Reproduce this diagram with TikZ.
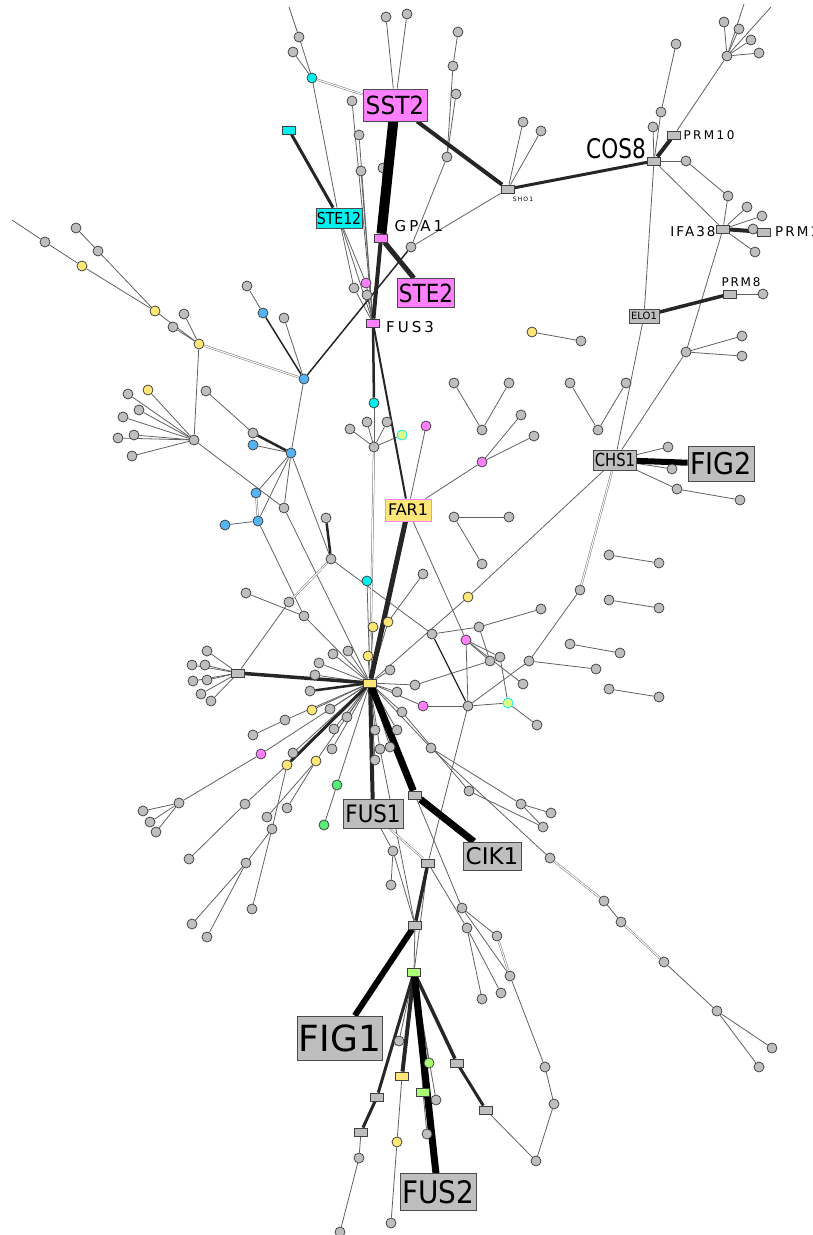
\documentclass[tikz,border=0pt]{standalone}
\usepackage{fontspec}
\usepackage{graphicx}
\setmainfont{DejaVu Sans}
\newfontfamily\spfont[LetterSpace=20]{DejaVu Sans}
\usetikzlibrary{backgrounds}
\newcommand\fsz[1]{\fontsize{#1}{#1}\selectfont}
\definecolor{ngray}{HTML}{BEBEBE}
\definecolor{nmag}{HTML}{FF80FF}
\definecolor{ncyan}{HTML}{00F0F0}
\definecolor{nyel}{HTML}{FFE777}
\definecolor{nblue}{HTML}{55B4F5}
\definecolor{ngreen}{HTML}{55EE77}
\definecolor{nlgreen}{HTML}{AAFF77}
\definecolor{nyg}{HTML}{DDFF88}
\begin{document}
\begin{tikzpicture}[x=1pt,y=-1pt,
 nd/.style={circle,draw=black!75,line width=0.75pt,minimum size=10pt,inner sep=0pt},
 gc/.style={nd,fill=ngray}, mc/.style={nd,fill=nmag}, cc/.style={nd,fill=ncyan},
 yc/.style={nd,fill=nyel}, bc/.style={nd,fill=nblue}, grc/.style={nd,fill=ngreen},
 lgc/.style={nd,fill=nlgreen}, ygc/.style={nd,fill=nyg,draw=ncyan},
 sq/.style={rectangle,draw=black!75,line width=0.75pt,minimum width=13pt,minimum height=8pt,inner sep=0pt},
 grr/.style={sq,fill=ngray}, mr/.style={sq,fill=nmag}, cr/.style={sq,fill=ncyan},
 yr/.style={sq,fill=nyel}, lgr/.style={sq,fill=nlgreen},
 lbox/.style={rectangle,draw=black!70,line width=0.8pt,fill=ngray,inner sep=0pt},
 ed/.style={draw=black!62,line width=0.8pt},
 dbl/.style={draw=black!55,double=white,double distance=1.1pt,line width=0.5pt},
 lab/.style={inner sep=0pt}
]
\useasboundingbox (0,0) rectangle (812,1235);

% gray circles
\foreach \n/\x/\y in {t1/299/37, t2/293/52, t4/386/17, t5/407/14, t6/352/101, t7/359/135, t8/361/171, t11/354/288, t12/367/295, t13/411/247, t14/447/157, t15/458/32, t16/453/66, t17/456/94, t18/523/122, t19/541/131,
l1/45/242, l2/76/228, l3/98/251, l6/184/314, l7/173/327, l9/247/286, l11/284/318, l14/128/394, l15/206/391, l16/139/410, l17/123/417, l18/118/438, l19/134/435, l20/132/456, l21/194/440, l22/253/433, l28/284/508, l29/326/518, l30/331/559, l31/246/593, l32/289/602, l33/304/616, l34/207/651, l35/192/665, l36/205/665, l37/193/681, l38/207/680, l39/201/694, l40/211/701,
m2/374/447, m3/350/429, m4/367/422, m5/387/422, m8/482/430, m9/454/383, m10/509/383, m12/521/415, m13/534/436, m14/454/517, m15/509/517, m16/482/564, m18/423/574, m22/432/634, m23/479/627, m24/541/609, m26/500/657, m27/490/661, m28/529/661, m29/523/684, m30/468/706, m32/537/725, m34/415/685, m35/580/590, m36/596/669,
r2/581/341, r3/570/383, r4/626/383, r5/598/430, r6/668/447, r7/672/469, r8/677/489, r9/740/500, r10/609/555, r11/659/563, r12/609/600, r13/659/608, r14/570/644, r15/620/653, r16/609/689, r17/659/697,
q1/676/44, q2/661/112, q3/653/127, q4/686/161, q5/727/56, q6/724/22, q7/739/29, q8/751/40, q9/759/53, q10/728/196, q11/747/207, q12/762/216, q13/753/229, q14/755/252, q15/763/294, q16/686/352, q17/742/336, q18/742/356,
h1/348/651, h2/333/654, h3/319/663, h5/390/670, h6/315/675, h7/310/691, h8/397/692, h10/330/709, h11/285/720, h12/402/712, h13/347/717, h14/334/729, h15/375/730, h16/397/730, h17/431/748, h18/332/749, h19/380/749, h20/390/747, h21/293/753, h22/375/760, h26/253/735, h29/179/803, h30/143/811, h31/150/822, h32/156/832, h33/245/804, h34/189/859, h35/287/808, h36/267/817, h37/272/829, h38/246/863, h39/252/909, h40/192/924, h41/207/937, h42/469/791, h43/521/804, h44/551/813, h45/543/827, h46/550/858, h47/604/901, h48/621/922, h49/664/962, h50/717/1011, h51/772/1048, h52/759/1067,
b1/393/851, b2/391/885, b3/462/908, b4/467/928, b5/497/936, b6/510/976, b7/482/999, b8/501/993, b9/399/1041, b10/359/1158, b11/340/1232, b13/391/1223, b15/436/1100, b16/427/1134, b17/545/1067, b18/554/1104, b19/536/1161}
  \node[gc] (\n) at (\x,\y) {};
\foreach \n/\x/\y in {l4/82/266, l5/155/311, l8/199/344, l13/148/390, m19/468/597, m20/373/627, m21/388/622, h4/368/656, h9/312/710, h23/287/765, h24/316/761, r1/532/332, b12/397/1142}
  \node[yc] (\n) at (\x,\y) {};
\foreach \n/\x/\y in {t10/366/283, m7/426/426, m11/482/462, m25/466/640, m33/423/706, h25/261/754}
  \node[mc] (\n) at (\x,\y) {};
\foreach \n/\x/\y in {t3/312/78, m1/374/403, m17/367/581}
  \node[cc] (\n) at (\x,\y) {};
\foreach \n/\x/\y in {l10/263/313, l12/304/379, l23/253/445, l24/291/453, l25/256/493, l26/258/521, l27/225/525}
  \node[bc] (\n) at (\x,\y) {};
\node[grc] (h27) at (337,785) {};
\node[grc] (h28) at (324,825) {};
\node[lgc] (b14) at (429,1063) {};
\node[ygc] (m6) at (402,435) {};
\node[ygc] (m31) at (508,703) {};

% small rectangles
\foreach \n/\x/\y in {SHO1/508/189, COS8/654/161, PRM10/674/135, IFA38/723/229, PRM1/764/232, PRM8/730/294, lr/238/673, gr2/415/795, gr3/428/863, gr4/415/925, gr5/377/1097, gr6/361/1132, gr7/457/1063, gr8/486/1110}
  \node[grr] (\n) at (\x,\y) {};
\node[mr] (GPA1) at (381,238) {};
\node[mr] (FUS3) at (373,323) {};
\node[cr] (cr1) at (289,130) {};
\node[yr] (H) at (370,683) {};
\node[yr] (yr2) at (402,1076) {};
\node[lgr] (lgr1) at (414,972) {};
\node[lgr] (lgr2) at (423,1092) {};

% labelled boxes
\node[lbox,fill=nmag,minimum width=64pt,minimum height=32pt] (SST2) at (395,105) {\scalebox{0.93}[1]{\fsz{25}SST2}};
\node[lbox,fill=nmag,minimum width=57pt,minimum height=29pt] (STE2) at (426,293) {\scalebox{0.86}[1]{\fsz{25}STE2}};
\node[lbox,fill=ncyan,minimum width=46pt,minimum height=20pt] (STE12) at (339,218) {\scalebox{0.85}[1]{\fsz{16.5}STE12}};
\node[lbox,fill=nyel,draw=nmag,minimum width=46pt,minimum height=22pt] (FAR1) at (408,510) {\fsz{16}FAR1};
\node[lbox,minimum width=43pt,minimum height=20pt] (CHS1) at (615,460) {\scalebox{0.82}[1]{\fsz{18}CHS1}};
\node[lbox,minimum width=66pt,minimum height=35pt] (FIG2) at (721,464) {\scalebox{0.9}[1]{\fsz{30}FIG2}};
\node[lbox,minimum width=30pt,minimum height=14pt] (ELO1) at (644,316) {\fsz{10}ELO1};
\node[lbox,minimum width=60pt,minimum height=29pt] (FUS1) at (373,814) {\scalebox{0.89}[1]{\fsz{24}FUS1}};
\node[lbox,minimum width=58pt,minimum height=28pt] (CIK1) at (492,856) {\fsz{23}CIK1};
\node[lbox,minimum width=85pt,minimum height=44pt] (FIG1) at (340,1038) {\fsz{36}FIG1};
\node[lbox,minimum width=76pt,minimum height=37pt] (FUS2) at (438,1192) {\scalebox{0.9}[1]{\fsz{31}FUS2}};

% plain labels
\node[lab] (lGPA1) at (419,226) {\spfont\fsz{15}GPA1};
\node[lab] (lFUS3) at (410,327) {\spfont\fsz{15}FUS3};
\node[lab] (lCOS8) at (616,149) {\scalebox{0.8}[1]{\fsz{27}COS8}};
\node[lab] (lPRM10) at (709,135) {\addfontfeature{LetterSpace=20}\fsz{12}PRM10};
\node[lab] (lIFA38) at (693,232) {\addfontfeature{LetterSpace=15}\fsz{13.5}IFA38};
\node[lab,anchor=west] (lPRM1) at (775,232) {\addfontfeature{LetterSpace=15}\fsz{13.5}PRM1};
\node[lab] (lPRM8) at (741,282) {\addfontfeature{LetterSpace=15}\fsz{12}PRM8};
\node[lab] (lSHO1) at (523,199) {\addfontfeature{LetterSpace=20}\fsz{6}SHO1};

\coordinate (ta) at (289,7);
\coordinate (lo) at (12,220);
\coordinate (qa) at (744,4);
\coordinate (qb) at (771,7);

\begin{pgfonlayer}{background}
\node[gc] (t9) at (383,168) {};
\foreach \a/\b in {t1/ta, t1/t3, t2/t3, t3/STE12, t4/SST2, t5/SST2, t6/FUS3, t7/FUS3, t8/FUS3, STE12/t10, STE12/t11, STE12/FUS3, t11/FUS3, t12/FUS3, t10/FUS3, t13/SHO1, t13/t14, t14/t16, t16/t15, t14/t17, SHO1/t18, SHO1/t19, m7/FAR1, t9/GPA1,
lo/l1, l1/l4, l4/l5, l2/l3, l3/l5, l5/l8, l6/l8, l7/l8, l8/l21, l9/l10, l11/l12, l12/l24, l13/l21, l14/l21, l16/l21, l17/l21, l18/l21, l19/l21, l20/l21, l15/l22, l23/l24, l24/l25, l24/l26, l27/l26, l24/l28, l21/l28, l28/H, l24/l30, l32/lr, l30/m22, l26/l33, l33/H, l31/l33, lr/l34, lr/l35, lr/l36, lr/l37, lr/l38, lr/l39, lr/l40,
m1/m2, m2/m3, m2/m4, m2/m5, m2/m6, m17/H, m9/m8, m10/m8, m12/m11, m13/m11, m11/FAR1, m14/m15, m14/m16, FAR1/m25, m18/m21, m21/H, m20/H, m19/CHS1, m19/H, m22/m23, m24/m23, m25/m30, m25/m27, m25/m29, m25/m26, m26/m31, m23/m27, m27/m34, m34/H, m28/m30, m28/m35, m28/m36, m30/m33, m30/m31, m31/m32, m30/gr3, m33/H,
r1/r2, r3/r5, r4/r5, ELO1/CHS1, COS8/ELO1, PRM8/q15, q16/q17, q16/q18, q16/CHS1, IFA38/q16, CHS1/r6, CHS1/r7, CHS1/r8, r8/r9, r10/r11, r12/r13, r14/r15, r16/r17, COS8/q2, q2/q1, COS8/q3, COS8/q4, PRM10/q5, q5/q6, q5/q7, q5/q8, q5/q9, q5/qa, q5/qb, COS8/IFA38, q4/q10, q10/IFA38, IFA38/q11, IFA38/q12, IFA38/q13, IFA38/q14,
H/h1, H/h2, H/h3, H/h4, H/h5, H/h6, H/h8, H/h9, H/h10, H/h12, H/h13, H/h14, H/h15, H/h16, H/h17, H/h18, H/h19, H/h20, H/h21, H/h22, H/h24, H/h25, h29/h25, h29/h30, h29/h31, h29/h32, h26/h11, h11/H, h33/h23, h34/h33, h35/h24, h36/h24, h37/h23, h37/h38, h37/h39, h38/h40, h38/h41, H/h27, h27/h28, gr2/b3, FUS1/b1, b1/b2, b1/gr4, h19/gr4, gr3/b4, gr3/lgr1, gr4/lgr1, b3/b5, b3/b6, b4/b7, b4/b8, b6/b17, b17/b18, b18/b19, b19/gr8, h47/h48, h49/h50, h50/h51, h50/h52, h12/h42, h42/h45, h17/h43, h43/h44, h43/h45, h17/h46, lgr1/b9, gr6/b10, b10/b11, yr2/b12, b12/b13, lgr1/b14, lgr1/lgr2, lgr1/b15, lgr2/b16}
  \draw[ed] (\a) -- (\b);
\foreach \a/\b in {t3/SST2, l8/l12, m2/H, STE2/m7, m35/CHS1, FUS1/gr3, l30/l32, l25/l26, h46/h47, h48/h49, b5/b6}
  \draw[dbl] (\a) -- (\b);
\foreach \a/\b/\w in {GPA1/STE2/5, GPA1/FUS3/4, SST2/SHO1/4, SHO1/COS8/3, COS8/PRM10/4, IFA38/PRM1/4, ELO1/PRM8/3.5, cr1/STE12/3, FUS3/m1/2.5, FUS3/FAR1/2, FAR1/H/5, lr/H/3.5, H/h7/2.5, H/h23/3, H/FUS1/4, gr3/gr4/3.5, lgr1/yr2/4, lgr1/gr7/3.5, gr7/gr8/3, lgr1/gr5/3, gr5/gr6/3, l22/l24/2.5, l10/l12/1.5, t13/l12/1.5, l29/l30/2.5, m22/m30/1.3}
  \draw[draw=black!85,line width=\w pt] (\a) -- (\b);
\foreach \a/\b/\w in {SST2/GPA1/10, CHS1/FIG2/6, H/gr2/7, gr2/CIK1/7, gr4/FIG1/6, lgr1/FUS2/7}
  \draw[draw=black,line width=\w pt] (\a) -- (\b);
\end{pgfonlayer}
\end{tikzpicture}
\end{document}
